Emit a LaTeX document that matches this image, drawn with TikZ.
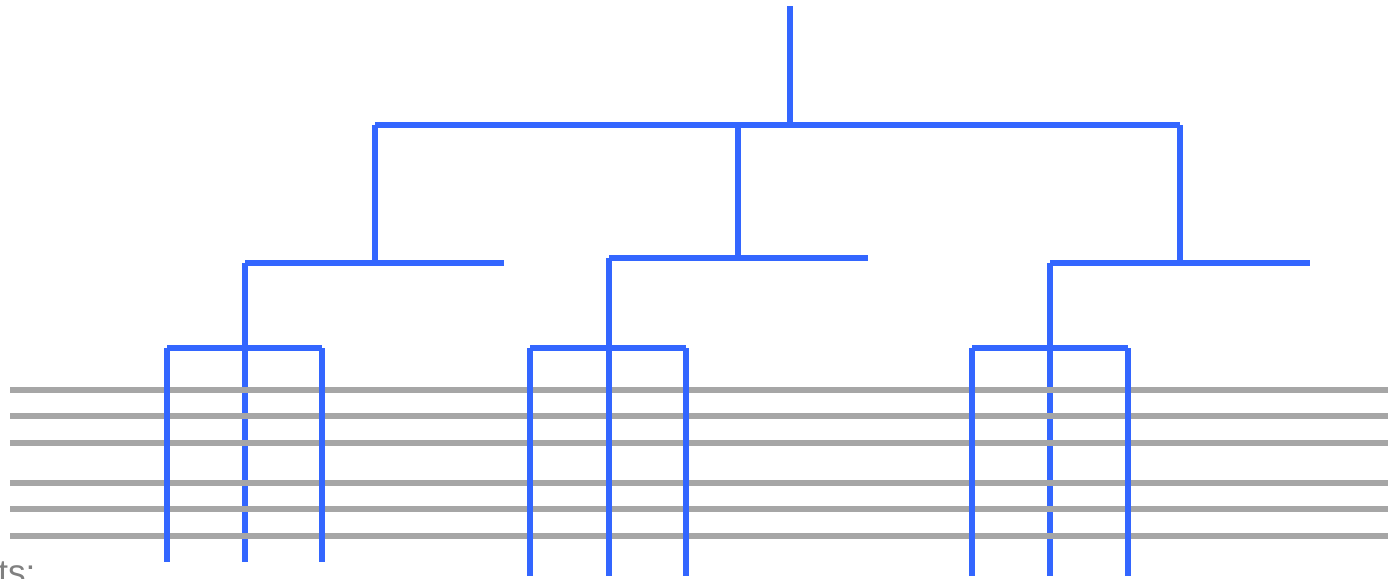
\documentclass[tikz,border=0pt]{standalone}
\usepackage{fontspec}
\setsansfont{Liberation Sans}
\usepackage{xcolor}
\definecolor{Tree_Blue}{HTML}{3366FF}
\definecolor{Staff_Gray}{HTML}{A6A6A6}
\definecolor{Note_Gray}{HTML}{808080}

\begin{document}
\begin{tikzpicture}[x=0.02cm, y=-0.02cm,
    branch/.style={line width=3.5pt, Tree_Blue},
    staff/.style={line width=3.5pt, Staff_Gray}]
    \useasboundingbox (0,0) rectangle (1399,578);

    % Root and first split
    \coordinate (root) at (790,6);
    \coordinate (top) at (790,125);
    \coordinate (topL) at (375,125);
    \coordinate (topM) at (738,125);
    \coordinate (topR) at (1180,125);

    % Second level bars
    \coordinate (bL) at (375,263);  \coordinate (bLa) at (245,263); \coordinate (bLb) at (504,263);
    \coordinate (bM) at (738,258);  \coordinate (bMa) at (609,258); \coordinate (bMb) at (868,258);
    \coordinate (bR) at (1180,263); \coordinate (bRa) at (1050,263); \coordinate (bRb) at (1310,263);

    % Third level bars
    \coordinate (cL) at (245,348);  \coordinate (cLa) at (167,348); \coordinate (cLb) at (322,348);
    \coordinate (cM) at (609,348);  \coordinate (cMa) at (530,348); \coordinate (cMb) at (686,348);
    \coordinate (cR) at (1050,348); \coordinate (cRa) at (972,348); \coordinate (cRb) at (1128,348);

    % Leaf ends
    \coordinate (lL1) at (167,562);  \coordinate (lL2) at (245,562);  \coordinate (lL3) at (322,562);
    \coordinate (lM1) at (530,576);  \coordinate (lM2) at (609,576);  \coordinate (lM3) at (686,576);
    \coordinate (lR1) at (972,576);  \coordinate (lR2) at (1050,576); \coordinate (lR3) at (1128,576);

    % Middle leaves lying under the staff
    \draw[branch] (cL) -- (lL2);
    \draw[branch] (cR) -- (lR2);

    % Staff lines
    \foreach \y in {390,416,443,483,509,536}
        \draw[staff] (10,\y) -- (1388,\y);

    % Label cut off at the bottom
    \node[Note_Gray, anchor=base west, inner sep=0pt, font=\sffamily\fontsize{20}{24}\selectfont] (hint) at (-2,584) {ts:};

    % Tree
    \draw[branch] (root) -- (top);
    \draw[branch] (topL) -- (topR);
    \draw[branch] (topL) -- (bL);
    \draw[branch] (topM) -- (bM);
    \draw[branch] (topR) -- (bR);

    \draw[branch] (bLa) -- (bLb);
    \draw[branch] (bMa) -- (bMb);
    \draw[branch] (bRa) -- (bRb);
    \draw[branch] (bLa) -- (cL);
    \draw[branch] (bMa) -- (cM);
    \draw[branch] (bRa) -- (cR);

    \draw[branch] (cLa) -- (cLb);
    \draw[branch] (cMa) -- (cMb);
    \draw[branch] (cRa) -- (cRb);

    \draw[branch] (cLa) -- (lL1);
    \draw[branch] (cLb) -- (lL3);
    \draw[branch] (cMa) -- (lM1);
    \draw[branch] (cM) -- (lM2);
    \draw[branch] (cMb) -- (lM3);
    \draw[branch] (cRa) -- (lR1);
    \draw[branch] (cRb) -- (lR3);
\end{tikzpicture}
\end{document}
